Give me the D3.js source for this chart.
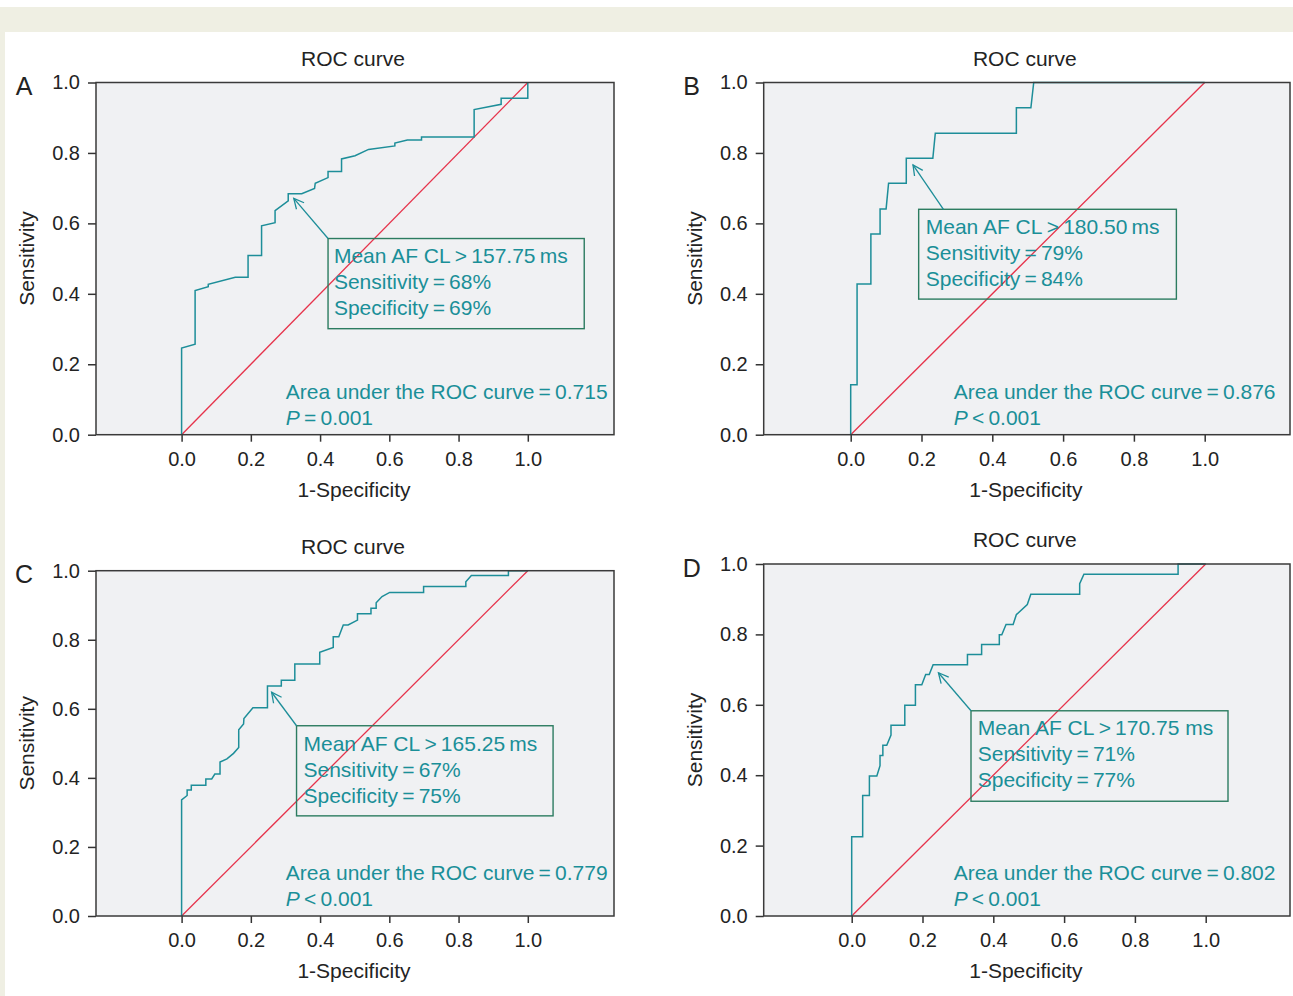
<!DOCTYPE html>
<html>
<head>
<meta charset="utf-8">
<script src="https://cdn.jsdelivr.net/npm/d3@7"></script>
<style>
  body { margin: 0; background: #fff; }
  svg text { font-family: 'Liberation Sans', Arial, Helvetica, sans-serif; }
</style>
</head>
<body>
<script>
// ROC curves of mean AF cycle length, four panels (A-D)
const panelKeys = ['A', 'B', 'C', 'D']

// 1-specificity / sensitivity
const fprA = [0, 0, 0.039, 0.039, 0.077, 0.077, 0.155, 0.192, 0.192, 0.231, 0.231, 0.270, 0.270, 0.308, 0.308, 0.347, 0.384, 0.386, 0.423, 0.423, 0.462, 0.462, 0.501, 0.540, 0.616, 0.616, 0.652, 0.693, 0.693, 0.845, 0.845, 0.923, 0.923, 1.0, 1.0]
const tprA = [0, 0.246, 0.257, 0.409, 0.420, 0.427, 0.447, 0.447, 0.509, 0.509, 0.593, 0.602, 0.636, 0.664, 0.684, 0.684, 0.699, 0.714, 0.730, 0.747, 0.747, 0.783, 0.792, 0.810, 0.820, 0.828, 0.837, 0.837, 0.845, 0.845, 0.923, 0.938, 0.955, 0.955, 1.0]

const fprB = [0, 0, 0.018, 0.018, 0.057, 0.057, 0.083, 0.083, 0.100, 0.107, 0.157, 0.157, 0.232, 0.239, 0.468, 0.468, 0.509, 0.517, 1.0]
const tprB = [0, 0.142, 0.142, 0.428, 0.428, 0.570, 0.570, 0.641, 0.641, 0.714, 0.714, 0.785, 0.785, 0.856, 0.856, 0.928, 0.928, 1.0, 1.0]

const fprC = [0, 0, 0.016, 0.016, 0.028, 0.028, 0.070, 0.070, 0.087, 0.096, 0.111, 0.111, 0.131, 0.150, 0.165, 0.165, 0.179, 0.180, 0.206, 0.248, 0.248, 0.288, 0.288, 0.327, 0.327, 0.399, 0.399, 0.438, 0.438, 0.454, 0.467, 0.481, 0.508, 0.508, 0.547, 0.547, 0.562, 0.562, 0.579, 0.601, 0.699, 0.699, 0.821, 0.821, 0.837, 0.944, 0.944, 1.0]
const tprC = [0, 0.336, 0.349, 0.365, 0.365, 0.379, 0.379, 0.397, 0.397, 0.411, 0.411, 0.446, 0.455, 0.471, 0.488, 0.539, 0.556, 0.572, 0.603, 0.603, 0.666, 0.666, 0.683, 0.683, 0.730, 0.730, 0.764, 0.778, 0.809, 0.809, 0.843, 0.843, 0.857, 0.875, 0.875, 0.891, 0.891, 0.907, 0.925, 0.937, 0.937, 0.954, 0.954, 0.968, 0.986, 0.986, 1.0, 1.0]

const fprD = [0, 0, 0.031, 0.031, 0.050, 0.050, 0.071, 0.080, 0.080, 0.088, 0.088, 0.099, 0.111, 0.111, 0.150, 0.150, 0.180, 0.180, 0.198, 0.209, 0.219, 0.230, 0.327, 0.327, 0.367, 0.367, 0.417, 0.417, 0.424, 0.436, 0.456, 0.465, 0.496, 0.506, 0.644, 0.644, 0.656, 0.922, 0.922, 1.0]
const tprD = [0, 0.225, 0.225, 0.342, 0.342, 0.398, 0.398, 0.427, 0.456, 0.456, 0.485, 0.485, 0.514, 0.542, 0.542, 0.599, 0.599, 0.657, 0.657, 0.686, 0.686, 0.714, 0.714, 0.743, 0.743, 0.771, 0.771, 0.799, 0.799, 0.828, 0.828, 0.856, 0.885, 0.914, 0.914, 0.944, 0.971, 0.971, 1.0, 1.0]

const fprs = [fprA, fprB, fprC, fprD]
const tprs = [tprA, tprB, tprC, tprD]

// annotation values
const cutoffs = ['157.75', '180.50', '165.25', '170.75']
const unitGap = ['\u2009', '\u2009', '\u2009', ' ']
const sensitivities = [68, 79, 67, 71]
const specificities = [69, 84, 75, 77]
const aucValues = ['0.715', '0.876', '0.779', '0.802']
const pSigns = ['=', '<', '<', '<']
const pValues = ['0.001', '0.001', '0.001', '0.001']

const tickValues = [0, 0.2, 0.4, 0.6, 0.8, 1.0]

// layout: plot box in px [left, top, right, bottom], px of x = 0 and x = 1
const layout = [
  { box: [96, 82.5, 614, 434.7], xRange: [181.6, 527.8] },
  { box: [763.7, 82.5, 1290, 434.7], xRange: [850.7, 1204.7] },
  { box: [96, 570.7, 614, 916], xRange: [181.6, 527.8] },
  { box: [763.7, 564, 1290, 916], xRange: [851.7, 1205.7] }
]
// annotation placement in data units
const notes = [
  { box: [0.423, 0.557, 1.163, 0.301], from: [0.423, 0.557], tip: [0.324, 0.671], tx: 0.44, ty: 0.487, aucX: 0.301 },
  { box: [0.192, 0.640, 0.920, 0.385], from: [0.262, 0.640], tip: [0.176, 0.766], tx: 0.212, ty: 0.569, aucX: 0.291 },
  { box: [0.332, 0.551, 1.073, 0.290], from: [0.332, 0.551], tip: [0.260, 0.648], tx: 0.352, ty: 0.479, aucX: 0.301 },
  { box: [0.337, 0.583, 1.063, 0.326], from: [0.337, 0.583], tip: [0.245, 0.691], tx: 0.356, ty: 0.514, aucX: 0.288 }
]

const teal = '#1d8e99'
const tealText = '#1a8f98'
const boxGreen = '#2c7c60'
const red = '#e6334b'
const ink = '#232323'

const svg = d3.select('body').append('svg')
  .attr('width', 1293)
  .attr('height', 996)

// page frame (beige band + left strip)
svg.append('rect').attr('x', 0).attr('y', 7).attr('width', 1293).attr('height', 25).attr('fill', '#efefe3')
svg.append('rect').attr('x', 0).attr('y', 7).attr('width', 5).attr('height', 989).attr('fill', '#efefe3')

svg.append('defs').append('marker')
  .attr('id', 'arrow')
  .attr('markerUnits', 'userSpaceOnUse')
  .attr('viewBox', '-12 -7 14 14')
  .attr('markerWidth', 14)
  .attr('markerHeight', 14)
  .attr('refX', 0)
  .attr('refY', 0)
  .attr('orient', 'auto')
  .append('path')
  .attr('d', 'M-10,-5 L0,0 L-10,5')
  .attr('fill', 'none')
  .attr('stroke', teal)
  .attr('stroke-width', 1.3)

function drawPanel (key, i) {
  const [l, t, r, b] = layout[i].box
  const x = d3.scaleLinear().domain([0, 1]).range(layout[i].xRange)
  const y = d3.scaleLinear().domain([0, 1]).range([b, t])
  const note = notes[i]
  const g = svg.append('g')

  // plot background (frame is drawn last so it covers the curve on the top edge)
  g.append('rect')
    .attr('x', l).attr('y', t)
    .attr('width', r - l).attr('height', b - t)
    .attr('fill', '#f0f1f3')

  // axes
  const yAxis = d3.axisLeft(y).tickValues(tickValues).tickSize(8).tickPadding(8).tickFormat(d3.format('.1f'))
  const xAxis = d3.axisBottom(x).tickValues(tickValues).tickSize(7).tickPadding(10).tickFormat(d3.format('.1f'))

  const gy = g.append('g').attr('transform', `translate(${l},0)`).call(yAxis)
  const gx = g.append('g').attr('transform', `translate(0,${b})`).call(xAxis)
  ;[gx, gy].forEach(ax => {
    ax.attr('font-family', null).attr('font-size', 20)
    ax.select('.domain').remove()
    ax.selectAll('.tick line').attr('stroke', '#333').attr('stroke-width', 1.5)
    ax.selectAll('.tick text').attr('fill', ink)
  })

  // reference diagonal
  g.append('line')
    .attr('x1', x(0)).attr('y1', y(0))
    .attr('x2', x(1)).attr('y2', y(1))
    .attr('stroke', red)
    .attr('stroke-width', 1.3)

  // ROC curve
  const line = d3.line().x(d => x(d[0])).y(d => y(d[1]))
  g.append('path')
    .datum(d3.zip(fprs[i], tprs[i]))
    .attr('fill', 'none')
    .attr('stroke', teal)
    .attr('stroke-width', 1.5)
    .attr('d', line)

  g.append('rect')
    .attr('x', l).attr('y', t)
    .attr('width', r - l).attr('height', b - t)
    .attr('fill', 'none')
    .attr('stroke', '#3a3a3a')
    .attr('stroke-width', 1.5)

  // annotation box + arrow
  g.append('rect')
    .attr('x', x(note.box[0])).attr('y', y(note.box[1]))
    .attr('width', x(note.box[2]) - x(note.box[0]))
    .attr('height', y(note.box[3]) - y(note.box[1]))
    .attr('fill', 'none')
    .attr('stroke', boxGreen)
    .attr('stroke-width', 1.4)

  g.append('line')
    .attr('x1', x(note.from[0])).attr('y1', y(note.from[1]))
    .attr('x2', x(note.tip[0])).attr('y2', y(note.tip[1]))
    .attr('stroke', teal)
    .attr('stroke-width', 1.3)
    .attr('marker-end', 'url(#arrow)')

  const noteLines = [
    `Mean AF CL\u2009>\u2009${cutoffs[i]}${unitGap[i]}ms`,
    `Sensitivity\u2009=\u2009${sensitivities[i]}%`,
    `Specificity\u2009=\u2009${specificities[i]}%`
  ]
  g.selectAll('.note')
    .data(noteLines)
    .enter()
    .append('text')
    .attr('x', x(note.tx))
    .attr('y', (d, j) => y(note.ty) + j * 26)
    .attr('font-size', 21)
    .attr('fill', tealText)
    .text(d => d)

  // AUC and P value
  g.append('text')
    .attr('x', x(note.aucX)).attr('y', b - 36)
    .attr('font-size', 21)
    .attr('fill', tealText)
    .text(`Area under the ROC curve\u2009=\u2009${aucValues[i]}`)

  const pt = g.append('text')
    .attr('x', x(note.aucX)).attr('y', b - 10)
    .attr('font-size', 21)
    .attr('fill', tealText)
  pt.append('tspan').attr('font-style', 'italic').text('P')
  pt.append('tspan').text(`\u2009${pSigns[i]}\u2009${pValues[i]}`)

  // titles and labels
  g.append('text')
    .attr('x', (l + r) / 2 - 2).attr('y', t - 17)
    .attr('text-anchor', 'middle')
    .attr('font-size', 21)
    .attr('fill', ink)
    .text('ROC curve')

  g.append('text')
    .attr('x', (l + r) / 2 - 1).attr('y', b + 62)
    .attr('text-anchor', 'middle')
    .attr('font-size', 21)
    .attr('fill', ink)
    .text('1-Specificity')

  g.append('text')
    .attr('transform', `translate(${l - 62},${(t + b) / 2}) rotate(-90)`)
    .attr('text-anchor', 'middle')
    .attr('font-size', 21)
    .attr('fill', ink)
    .text('Sensitivity')

  g.append('text')
    .attr('x', l - 72).attr('y', t + 12.5)
    .attr('text-anchor', 'middle')
    .attr('font-size', 25)
    .attr('fill', ink)
    .text(key)
}

panelKeys.forEach(drawPanel)
</script>
</body>
</html>
